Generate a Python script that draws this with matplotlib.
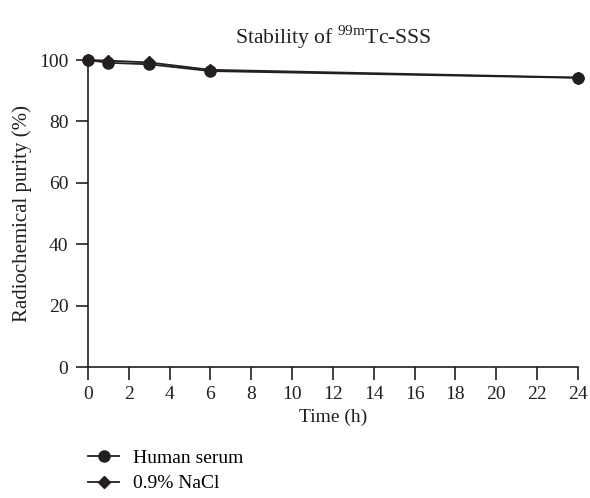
import matplotlib
matplotlib.use('Agg')
import matplotlib.pyplot as plt

time_h = [0, 1, 3, 6, 24]
human_serum = [100, 99.1, 98.6, 96.4, 94.2]
nacl = [100, 99.8, 99.2, 96.8, 94.3]
x_ticks = list(range(0, 25, 2))
y_ticks = [0, 20, 40, 60, 80, 100]

plt.rcParams['font.family'] = ['Liberation Serif', 'DejaVu Serif']
plt.rcParams['font.size'] = 14
dark = '#231f20'

fig = plt.figure(figsize=(5.9, 4.98), dpi=100)
ax = fig.add_axes([0.149, 0.263, 0.8305, 0.6165])

ax.plot(time_h, human_serum, color=dark, lw=1.3, marker='o', ms=8,
        clip_on=False, zorder=3, label='Human serum')
ax.plot(time_h, nacl, color=dark, lw=1.3, marker='D', ms=6,
        clip_on=False, zorder=3, label='0.9% NaCl')

ax.set_xlim(0, 24)
ax.set_ylim(0, 100)
ax.set_xticks(x_ticks)
ax.set_yticks(y_ticks)
for s in ['top', 'right']:
    ax.spines[s].set_visible(False)
for s in ['left', 'bottom']:
    ax.spines[s].set_color(dark)
    ax.spines[s].set_linewidth(1.2)
ax.tick_params(direction='out', length=9, width=1.2, colors=dark, labelcolor=dark, pad=5)

ax.set_xlabel('Time (h)', color=dark, labelpad=4)
ax.set_ylabel('Radiochemical purity (%)', color=dark, labelpad=5, fontsize=15)
ax.set_title(r'Stability of $^{\mathregular{99m}}$Tc-SSS', color=dark, pad=12, fontsize=15.6)

ax.legend(loc='lower left', bbox_to_anchor=(0.13, -0.012), bbox_transform=fig.transFigure,
          frameon=False, handlelength=1.6, handletextpad=0.7, labelspacing=0.4,
          fontsize=14, borderaxespad=0.2)

fig.savefig('out.png', dpi=100)
